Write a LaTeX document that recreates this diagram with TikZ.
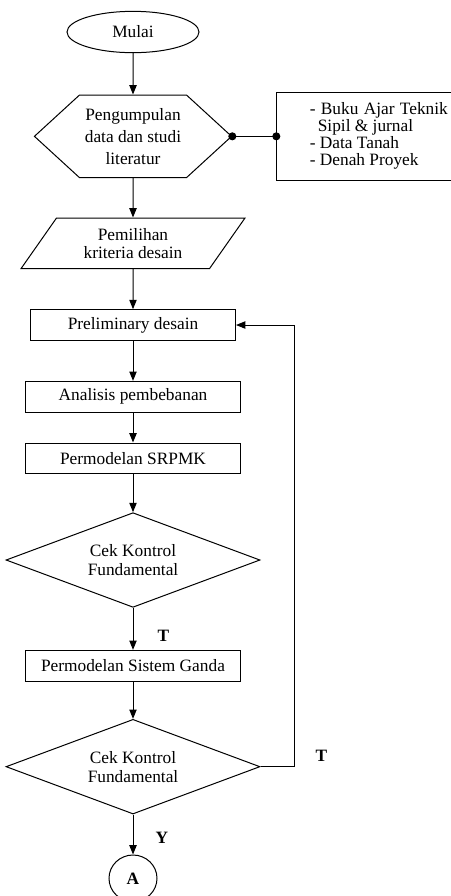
\documentclass[12pt,tikz,border=0pt]{standalone}
\usepackage{fontspec}
\setmainfont{Liberation Serif}
\usetikzlibrary{shapes.geometric,shapes.symbols,arrows.meta,positioning}

\begin{document}
\begin{tikzpicture}[x=0.75pt,y=0.75pt,>={Triangle[length=7pt,width=5.5pt]},line width=0.75pt,
  font=\fontsize{13}{15}\selectfont,
  prosesbox/.style={draw,minimum width=161pt,minimum height=23pt,inner sep=2pt},
  cekbox/.style={draw,diamond,aspect=2.7,minimum width=190.5pt,minimum height=71pt,inner sep=0pt,align=center,font=\fontsize{13}{14.25}\selectfont},
  jawab/.style={font=\fontsize{13}{15}\bfseries}]
\useasboundingbox (0,0) rectangle (450,-896);
\node[draw,ellipse,minimum width=99pt,minimum height=31pt] (mulai) at (133,-32) {Mulai};
\node[draw,signal,signal to=east and west,signal pointer angle=85,minimum width=146pt,minimum height=62pt,align=center,font=\fontsize{13}{16.5}\selectfont,below=31pt of mulai] (data) {Pengumpulan\\data dan studi\\literatur};
\node[draw,minimum width=153pt,minimum height=66pt,align=left,font=\fontsize{13}{12.75}\selectfont,right=33pt of data] (sumber) {\makebox[103.5pt][s]{- Buku Ajar Teknik}\\\hspace*{6pt}Sipil \& jurnal\\- Data Tanah\\- Denah Proyek};
\node[draw,trapezium,trapezium left angle=49,trapezium right angle=131,trapezium stretches body,minimum width=168pt,minimum height=38pt,align=center,font=\fontsize{13}{13.5}\selectfont,below=29.5pt of data] (kriteria) {Pemilihan\\kriteria desain};
\node[prosesbox,minimum width=153.75pt,below=30pt of kriteria] (prelim) {Preliminary desain};
\node[prosesbox,below=30pt of prelim] (beban) {Analisis pembebanan};
\node[prosesbox,below=22.5pt of beban] (srpmk) {Permodelan SRPMK};
\node[cekbox,below=28.5pt of srpmk] (cek1) {Cek Kontrol\\Fundamental};
\node[prosesbox,below=31.5pt of cek1] (ganda) {Permodelan Sistem Ganda};
\node[cekbox,below=28pt of ganda] (cek2) {Cek Kontrol\\Fundamental};
\node[draw,ellipse,minimum width=36pt,minimum height=35pt,font=\fontsize{13}{15}\bfseries,below=30pt of cek2] (konA) {A};
% alur utama
\draw[->] (mulai) -- (data);
\draw[{Circle[length=6pt]}-{Circle[length=6pt]},shorten <=-3pt,shorten >=-3pt] (data.east) -- (sumber.west);
\draw[->] (data) -- (kriteria);
\draw[->] (kriteria) -- (prelim);
\draw[->] (prelim) -- (beban);
\draw[->] (beban) -- (srpmk);
\draw[->] (srpmk) -- (cek1);
\draw[->] (cek1) -- node[jawab,pos=0.66,right=14pt] {T} (ganda);
\draw[->] (ganda) -- (cek2);
\draw[->] (cek2) -- node[jawab,pos=0.59,right=12.5pt] {Y} (konA);
% kembali ke preliminary
\draw[->] (cek2.east) -- ++(34,0) coordinate (balik) |- (prelim.east);
\node[jawab] (tbalik) at ([shift={(27,11)}]balik) {T};
\end{tikzpicture}
\end{document}
